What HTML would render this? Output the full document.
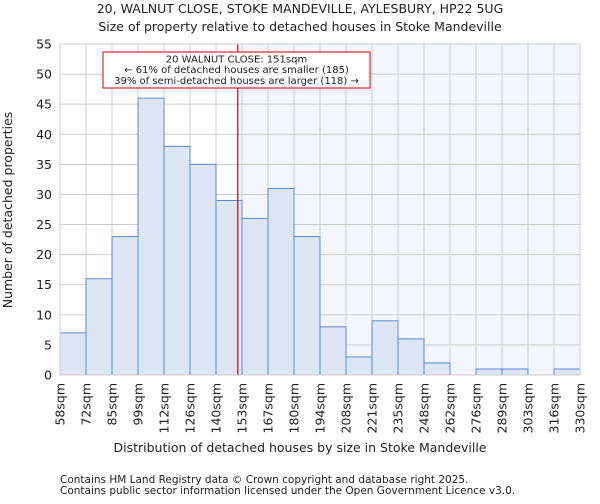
<!DOCTYPE html>
<html><head><meta charset="utf-8"><style>
body{margin:0;background:#fff;font-family:"DejaVu Sans","Liberation Sans",sans-serif;}
text{font-family:"DejaVu Sans","Liberation Sans",sans-serif;fill:#222;}
</style></head><body>
<svg id="chart" width="600" height="500">
<text x="300" y="13" text-anchor="middle" font-size="12.5">20, WALNUT CLOSE, STOKE MANDEVILLE, AYLESBURY, HP22 5UG</text>
<text x="300" y="31" text-anchor="middle" font-size="12.5">Size of property relative to detached houses in Stoke Mandeville</text>
<g id="plot"></g>
<text x="300" y="457" text-anchor="middle" font-size="12.5" dy="-5">Distribution of detached houses by size in Stoke Mandeville</text>
<text transform="translate(12,210) rotate(-90)" text-anchor="middle" font-size="12.5">Number of detached properties</text>
<text x="60" y="483" font-size="10.5" fill="#444">Contains HM Land Registry data © Crown copyright and database right 2025.</text>
<text x="60" y="494" font-size="10.5" fill="#444">Contains public sector information licensed under the Open Government Licence v3.0.</text>
</svg>
<script>
const binLabels=["58sqm","72sqm","85sqm","99sqm","112sqm","126sqm","140sqm","153sqm","167sqm","180sqm","194sqm","208sqm","221sqm","235sqm","248sqm","262sqm","276sqm","289sqm","303sqm","316sqm","330sqm"];
const counts=[7,16,23,46,38,35,29,26,31,23,8,3,9,6,2,0,1,1,0,1];
const yTicks=[0,5,10,15,20,25,30,35,40,45,50,55];
const propertySize=151;
const binStart=58, binEnd=330;
const X0=60,X1=580,Y0=375,Y1=44,YMAX=55;
const ns="http://www.w3.org/2000/svg";
const g=document.getElementById('plot');
const bw=(X1-X0)/counts.length;
const x=v=>X0+(v-binStart)/(binEnd-binStart)*(X1-X0);
const y=v=>Y0-v/YMAX*(Y0-Y1);
function mk(t,a){const e=document.createElementNS(ns,t);for(const k in a)e.setAttribute(k,a[k]);g.appendChild(e);return e;}
const lx=x(propertySize);
let e=mk('rect',{x:lx,y:Y1,width:X1-lx,height:Y0-Y1,fill:'#f4f6fd'});


yTicks.forEach(t=>{
 let l=mk('line',{x1:X0,x2:X1,y1:y(t),y2:y(t),stroke:'#ccc','stroke-width':1});
 
 
 let tx=mk('text',{x:X0-8,y:y(t)+4.5,'text-anchor':'end','font-size':'12.5'});tx.textContent=t;
 
 
});
binLabels.forEach((s,i)=>{
 const xx=X0+i*bw;
 let l=mk('line',{x1:xx,x2:xx,y1:Y1,y2:Y0,stroke:'#ccc','stroke-width':1});
 
 
 let tx=mk('text',{transform:`translate(${xx+4.5},${Y0+8}) rotate(-90)`,'text-anchor':'end','font-size':'12.5'});tx.textContent=s;
 
 
});
counts.forEach((c,i)=>{
 if(c<=0)return;
 let r=mk('rect',{x:X0+i*bw,y:y(c),width:bw,height:Y0-y(c),fill:'#dce6f4',stroke:'#5a8ad4','stroke-width':1});
 
 
});
let pl=mk('line',{x1:lx,x2:lx,y1:Y1,y2:Y0,stroke:'#cc0000','stroke-width':1.2});


let bx=mk('rect',{x:103,y:52,width:267,height:36,fill:'#fff',stroke:'#cc0000','stroke-width':1});


["20 WALNUT CLOSE: 151sqm","← 61% of detached houses are smaller (185)","39% of semi-detached houses are larger (118) →"].forEach((s,i)=>{
 let t=mk('text',{x:236.5,y:62.5+i*10.7,'text-anchor':'middle','font-size':'10'});t.textContent=s;
 
 
});
let ax=mk('rect',{x:X0,y:Y1,width:X1-X0,height:Y0-Y1,fill:'none',stroke:'#ccc'});


</script>
</body></html>
